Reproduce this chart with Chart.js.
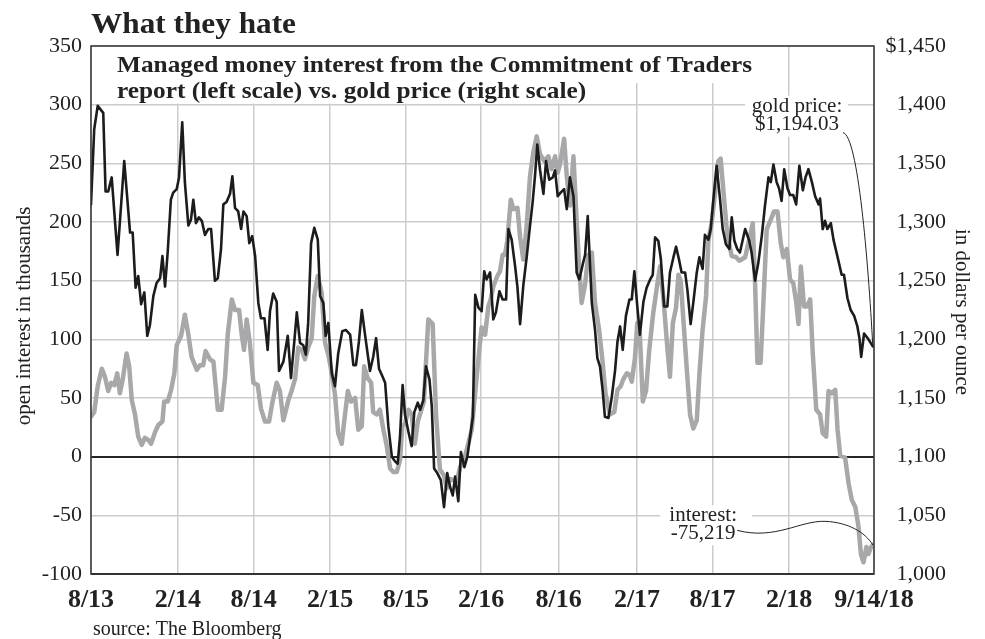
<!DOCTYPE html>
<html>
<head>
<meta charset="utf-8">
<script src="https://cdn.jsdelivr.net/npm/chart.js@4.4.1/dist/chart.umd.min.js"></script>
<style>
html,body{margin:0;padding:0;background:#fff;}
#box{position:relative;width:985px;height:639px;}
</style>
</head>
<body>
<div id="box"><canvas id="chart"></canvas></div>
<script>
// x values are weeks counted from the start of Aug 2013
const tickWeeks=[0,29.8,55.8,82,108,133.8,160.4,187.3,213.2,239.5,268.6];
const tickLabels=['8/13','2/14','8/14','2/15','8/15','2/16','8/16','2/17','8/17','2/18','9/14/18'];

// gold price, dollars per ounce (right scale)
const goldWeeks=[0,1.1,2.3,4.2,5,5.9,7.1,9.1,11.4,13.4,14.3,15.3,16.2,17.2,18.3,19.3,20.2,21.4,22.5,23.7,
24.5,25.4,26.3,27.4,28.2,29.4,30.2,31.3,32.2,33.4,34.3,35.1,36,37,38,39.1,40.2,41.2,42.5,43.5,
44.6,45.4,46.5,47.7,48.5,49.4,50.5,51.5,52.3,53.4,54.3,55.3,56.3,57.4,58.3,59.5,60.6,61.4,62.5,63.7,
64.5,66,67.5,68.6,69.7,70.6,71.7,72.8,73.7,74.5,75.5,76.6,77.8,78.6,79.7,80.5,81.4,82.6,83.7,84.8,
86.2,87.4,88.9,90,90.9,91.9,92.9,94,95.7,96.8,97.8,98.8,99.7,100.9,102,103.2,104.3,105.2,106,106.9,
107.7,108.9,110,110.9,112.1,112.9,114,114.9,116.1,116.9,117.7,118.8,120,121.1,122.2,123.2,124.1,124.9,126,126.9,
128.1,129.1,130,131,131.8,132.9,134,134.9,135.7,136.9,138,138.9,140.1,141.2,142.4,143.2,144.3,145.5,146.3,147.2,
148.3,149.5,150.6,151.5,152.3,153.1,154,155.2,156.1,157.2,158.4,159.2,160.1,161.1,162.3,163.2,164.3,165.5,166.6,167.5,
168.7,169.5,170.4,171.8,172.9,173.7,174.6,175.5,176.3,177.5,178.6,179.8,180.6,181.5,182.4,183.5,184.7,185.5,186.4,187.4,
188.3,189.5,190.6,191.8,192.7,193.5,194.6,195.5,196.6,197.7,198.6,199.8,200.7,201.8,202.6,203.8,204.6,205.7,206.6,207.8,
208.7,209.8,210.6,211.8,212.6,213.5,214.6,215.8,216.7,217.8,219,219.8,220.7,221.7,222.6,224.4,225.8,226.6,227.8,228.9,
230.1,231.2,232.4,233.2,234.1,235.2,236.1,236.9,237.8,238.9,239.8,240.9,241.9,243,244.2,245.1,246.1,247.3,248.4,249.6,
250.1,251,251.8,252.6,253.8,254.7,256.4,257.5,258.3,259.5,260.6,261.8,262.9,263.6,264.2,265.2,266.7,268.2];
const goldPrice=[1315,1379,1399,1393,1326,1326,1338,1272,1352,1291,1291,1244,1254,1230,1240,1203,1212,1237,1248,1252,
1271,1245,1274,1319,1325,1328,1338,1385,1334,1297,1302,1319,1299,1304,1301,1289,1294,1294,1250,1252,
1277,1315,1317,1324,1339,1312,1309,1294,1309,1305,1282,1288,1271,1231,1218,1218,1191,1224,1239,1232,
1173,1181,1203,1167,1197,1223,1197,1195,1187,1214,1282,1295,1285,1237,1231,1203,1214,1171,1160,1188,
1207,1208,1204,1178,1178,1198,1225,1204,1173,1185,1201,1175,1170,1163,1126,1100,1096,1094,1117,1161,
1136,1121,1109,1138,1146,1140,1148,1177,1166,1143,1090,1086,1080,1057,1086,1074,1067,1083,1062,1104,
1091,1100,1116,1134,1238,1227,1224,1258,1251,1257,1217,1223,1241,1234,1234,1294,1285,1262,1244,1213,
1246,1271,1297,1317,1339,1366,1345,1324,1352,1336,1338,1344,1322,1325,1328,1311,1338,1322,1257,1251,
1264,1272,1305,1231,1208,1184,1177,1157,1134,1133,1150,1174,1198,1211,1191,1220,1234,1234,1258,1228,
1204,1232,1244,1251,1255,1287,1284,1268,1228,1228,1257,1270,1279,1267,1257,1257,1242,1213,1231,1257,
1270,1260,1289,1285,1294,1319,1348,1319,1294,1281,1277,1304,1284,1277,1274,1294,1284,1274,1250,1265,
1288,1314,1338,1334,1349,1334,1328,1318,1345,1329,1323,1323,1315,1348,1327,1338,1345,1334,1322,1315,
1320,1294,1301,1294,1299,1285,1267,1255,1255,1235,1225,1220,1211,1201,1185,1205,1200,1194.03];

// managed money open interest, thousands of contracts (left scale)
const interestWeeks=[0,1.1,2.3,3.7,4.8,5.9,6.9,8,9,9.9,10.9,12.2,13.1,14,15.1,16.2,17.4,18.5,19.7,20.6,
22,23.1,24.5,25.1,26.3,27.4,28.6,29.4,30.9,32.2,33.4,34.5,36.3,37.4,38.5,39.3,40.8,42,43.5,44.8,
46,46.9,48.3,49.4,50.8,51.7,52.5,53.4,54.5,55.7,57.2,58.3,59.7,61.1,62.2,63.7,64.8,66,67.7,68.8,
70,71.1,72.3,73.4,74.5,75.7,76.6,77.8,79.1,80.3,81.4,82.6,83.7,84.8,86,86.9,88.1,89.2,90.6,91.7,
92.9,93.7,94.9,96.1,96.8,98,99.1,100.3,101.4,102.6,103.7,104.9,106,106.8,107.7,108.9,110,111.1,112.1,114.2,
115.7,117.2,118.4,119.7,121.1,122,123.2,124.3,125.5,126.6,128.3,129.4,130.6,131.4,132.3,133.2,134,135.2,136.3,137.1,
138,139.4,140.3,141.2,142,142.8,144,144.9,146.3,147.2,148.3,149.5,150.6,151.7,152.9,154,155.4,156.9,158,159.2,
160.1,160.9,162.3,163.2,164.3,165.5,166.6,167.5,168.3,169.5,170.6,171.8,172.9,174.3,175.4,176.5,178,179.5,180.6,181.7,
182.6,183.8,184.7,185.5,186.6,187.4,188.3,189.3,190.4,191.5,192.9,194.1,195.2,196.4,197.7,198.6,199.6,200.7,201.5,202.3,
203.2,204.4,205.5,206.6,207.8,208.7,209.8,211,211.8,212.9,214.1,215.2,216,217.2,218.3,219.8,221.3,222.4,224.4,225.8,
227,227.8,228.6,229.7,230.6,231.8,233.2,234.3,235.5,236.6,237.5,238.7,239.8,240.9,241.9,242.7,243.5,244.6,245.6,246.7,
247.6,248.8,250.1,251,252.2,253,254.1,255.3,256.1,257,258.7,259.9,261,262.2,263.3,264.1,265,266,266.7,267.6,268.2];
const interestK=[34,38,60,75,68,56,63,61,71,54,66,88,77,48,36,17,10,16,14,11,
21,27,30,47,47,56,71,95,103,121,104,85,74,78,78,90,83,81,40,40,
68,104,134,125,125,104,91,117,97,63,61,41,30,30,46,63,56,31,48,56,
66,93,91,83,93,101,137,154,140,97,87,71,53,20,11,31,56,47,50,23,
26,77,67,63,38,36,40,23,10,-10,-13,-13,-3,26,28,40,36,11,30,47,
117,113,34,-11,-16,-27,-19,-20,-21,-9,0,11,23,44,68,91,110,104,128,134,
145,154,158,172,172,184,219,211,212,187,168,198,239,259,273,258,252,256,245,256,
242,249,271,239,214,256,201,160,131,147,172,174,131,108,83,54,36,38,57,60,
66,71,70,64,84,114,103,47,56,91,123,144,162,134,93,68,114,127,155,150,
117,74,36,24,31,70,108,137,185,199,225,252,254,219,188,171,170,167,170,185,
199,148,80,80,128,194,202,209,209,182,170,177,151,148,132,113,162,128,128,134,
88,40,36,20,17,56,54,57,23,1,-1,-23,-37,-43,-60,-83,-90,-77,-83,-77,-75.219];

// where the two value notes sit, in data terms
const goldNote={week:242.2,value:300,lines:['gold price:','$1,194.03']};
const interestNote={week:210,value:-50,lines:['interest:','-75,219']};

const serif='"Liberation Serif","DejaVu Serif",serif';
const ink='#222';
const gridGray='#cbcbce';

function pts(xs,ys){return xs.map((w,i)=>({x:w,y:ys[i]}));}

function squeezeText(ctx,text,x,y,width){
  const w=ctx.measureText(text).width;
  ctx.save();
  ctx.translate(x,y);
  ctx.scale(width/w,1);
  ctx.fillText(text,0,0);
  ctx.restore();
}

const notes={
  id:'notes',
  beforeDatasetsDraw(c){
    const {ctx,chartArea:a,scales}=c;
    ctx.save();
    ctx.fillStyle='#fff';
    // white band behind the subtitle
    ctx.fillRect(a.left+1,a.top+1,678,36);
    ctx.fillRect(a.left+1,a.top+37,508,20.5);
    ctx.fillStyle=ink;
    ctx.textAlign='left';
    ctx.textBaseline='alphabetic';
    ctx.font='bold 24px '+serif;
    const l1='Managed money interest from the Commitment of Traders';
    const l2='report (left scale) vs. gold price (right scale)';
    const sx=635/ctx.measureText(l1).width;
    squeezeText(ctx,l1,a.left+26,a.top+25.5,635);
    squeezeText(ctx,l2,a.left+26,a.top+52,ctx.measureText(l2).width*sx);

    // value notes
    ctx.font='21px '+serif;
    ctx.textAlign='center';
    const gx=scales.x.getPixelForValue(goldNote.week), gy=scales.yL.getPixelForValue(goldNote.value);
    ctx.fillStyle='#fff';
    ctx.fillRect(gx-52,gy-9,103,41);
    ctx.fillStyle=ink;
    ctx.fillText(goldNote.lines[0],gx,gy+7);
    ctx.fillText(goldNote.lines[1],gx,gy+25);
    const ix=scales.x.getPixelForValue(interestNote.week), iy=scales.yL.getPixelForValue(interestNote.value);
    ctx.fillStyle='#fff';
    ctx.fillRect(ix-43,iy-10,92,40);
    ctx.fillStyle=ink;
    ctx.fillText(interestNote.lines[0],ix,iy+6);
    ctx.fillText(interestNote.lines[1],ix,iy+24);
    ctx.restore();
  },
  afterDraw(c){
    const {ctx,chartArea:a,scales}=c;
    ctx.save();
    // frame
    ctx.strokeStyle='#333';
    ctx.lineWidth=1.5;
    ctx.strokeRect(a.left,a.top,a.right-a.left,a.bottom-a.top);
    ctx.lineWidth=2.2;
    ctx.beginPath();ctx.moveTo(a.left,a.bottom);ctx.lineTo(a.right,a.bottom);ctx.stroke();

    // leader lines from the notes to the last points
    ctx.lineWidth=1;
    ctx.strokeStyle='#222';
    const gEnd=c.getDatasetMeta(0).data.at(-1);
    const gx=scales.x.getPixelForValue(goldNote.week), gy=scales.yL.getPixelForValue(goldNote.value);
    ctx.beginPath();
    ctx.moveTo(gx+46,gy+28);
    ctx.bezierCurveTo(gx+61,gy+31,gx+71,gy+155,gEnd.x,gEnd.y);
    ctx.stroke();
    const iEnd=c.getDatasetMeta(1).data.at(-1);
    const ix=scales.x.getPixelForValue(interestNote.week), iy=scales.yL.getPixelForValue(interestNote.value);
    ctx.beginPath();
    ctx.moveTo(ix+34,iy+15);
    ctx.bezierCurveTo(ix+72,iy+25,ix+97,iy+5,ix+122,iy+6);
    ctx.bezierCurveTo(ix+145,iy+7,ix+162,iy+17,iEnd.x,iEnd.y);
    ctx.stroke();

    // headline and source
    ctx.fillStyle=ink;
    ctx.textAlign='left';
    ctx.textBaseline='alphabetic';
    ctx.font='bold 30px '+serif;
    squeezeText(ctx,'What they hate',a.left,33,205);
    ctx.font='20px '+serif;
    ctx.fillText('source: The Bloomberg',93,635);

    // axis titles
    ctx.font='21px '+serif;
    ctx.textAlign='center';
    ctx.textBaseline='middle';
    ctx.save();
    ctx.translate(24,316);
    ctx.rotate(-Math.PI/2);
    ctx.fillText('open interest in thousands',0,0);
    ctx.restore();
    ctx.save();
    ctx.translate(962,312);
    ctx.rotate(Math.PI/2);
    ctx.fillText('in dollars per ounce',0,0);
    ctx.restore();
    ctx.restore();
  }
};

new Chart(document.getElementById('chart'),{
  type:'line',
  data:{datasets:[
    {label:'gold price',data:pts(goldWeeks,goldPrice),yAxisID:'yR',borderColor:'#1c1c1c',borderWidth:2.6,pointRadius:0,order:1},
    {label:'interest',data:pts(interestWeeks,interestK),yAxisID:'yL',borderColor:'#a8a8ab',borderWidth:4.5,pointRadius:0,order:2}
  ]},
  options:{
    responsive:true,
    maintainAspectRatio:false,
    animation:false,
    layout:{padding:{top:46,left:0,right:39,bottom:0}},
    plugins:{legend:{display:false},tooltip:{enabled:false}},
    elements:{line:{tension:0,borderJoinStyle:'round',borderCapStyle:'round'}},
    scales:{
      x:{type:'linear',min:0,max:268.6,
        afterBuildTicks:s=>{s.ticks=tickWeeks.map(v=>({value:v}));},
        afterFit:s=>{s.height=65;},
        ticks:{autoSkip:false,maxRotation:0,padding:11,color:ink,
          font:{family:serif,size:26,weight:'bold'},
          callback:(v,i)=>tickLabels[i]},
        grid:{color:gridGray,lineWidth:1.5,drawTicks:false},
        border:{display:false}},
      yL:{position:'left',min:-100,max:350,
        afterFit:s=>{s.width=91;},
        ticks:{stepSize:50,padding:9,color:ink,font:{family:serif,size:22}},
        grid:{drawTicks:false,
          color:c=>c.tick.value===0?'#262626':gridGray,
          lineWidth:c=>c.tick.value===0?2:1.5},
        border:{display:false}},
      yR:{position:'right',min:1000,max:1450,
        afterFit:s=>{s.width=72;},
        ticks:{stepSize:50,padding:8,crossAlign:'far',color:ink,font:{family:serif,size:22},
          callback:v=>(v===1450?'$':'')+v.toLocaleString('en-US')},
        grid:{display:false},
        border:{display:false}}
    }
  },
  plugins:[notes]
});
</script>
</body>
</html>
